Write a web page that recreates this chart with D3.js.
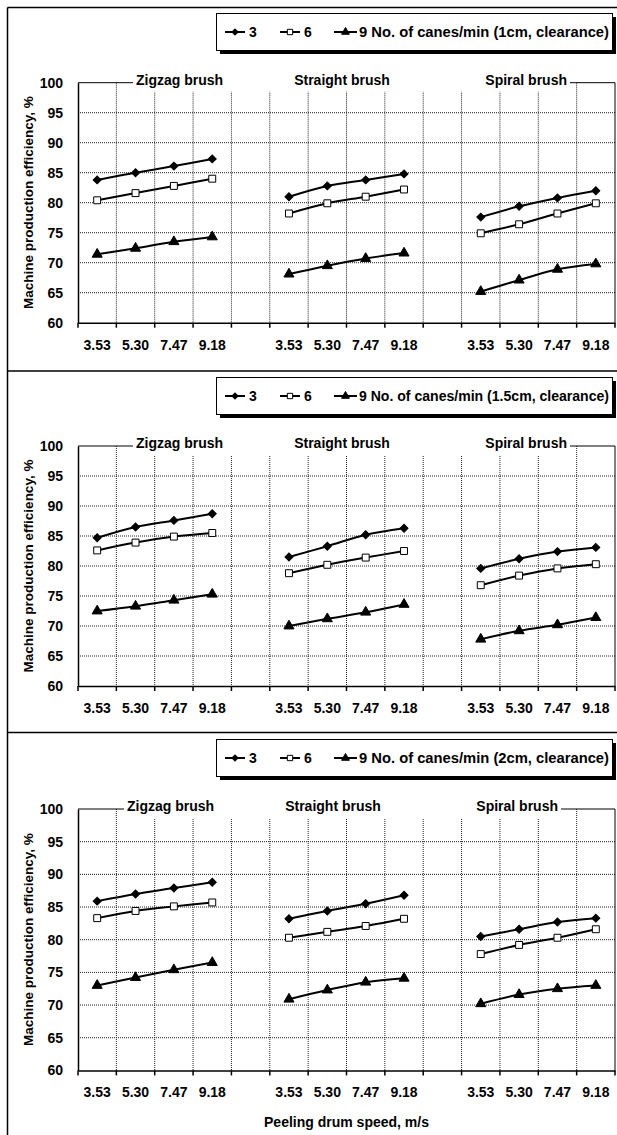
<!DOCTYPE html>
<html>
<head>
<meta charset="utf-8">
<script src="https://cdn.jsdelivr.net/npm/d3@7"></script>
<style>
  body { margin: 0; background: #fff; }
  text { font-family: "Liberation Sans", Arial, sans-serif; font-weight: bold; }
</style>
</head>
<body>
<div id="chart"></div>
<script>
// categories
const speeds = ["3.53", "5.30", "7.47", "9.18"];
const brushes = ["Zigzag brush", "Straight brush", "Spiral brush"];
const rates = ["3", "6", "9"];
const clearances = ["1cm", "1.5cm", "2cm"];
const yTicks = [60, 65, 70, 75, 80, 85, 90, 95, 100];

// efficiency, % : zigzag x4, straight x4, spiral x4
const eff1cmRate3 = [83.8, 85.0, 86.1, 87.3, 81.0, 82.8, 83.8, 84.8, 77.6, 79.4, 80.8, 82.0];
const eff1cmRate6 = [80.4, 81.6, 82.8, 84.0, 78.2, 79.9, 81.0, 82.2, 74.9, 76.4, 78.2, 79.9];
const eff1cmRate9 = [71.4, 72.4, 73.5, 74.3, 68.1, 69.5, 70.7, 71.6, 65.2, 67.1, 68.9, 69.8];

const eff15cmRate3 = [84.7, 86.5, 87.6, 88.7, 81.5, 83.3, 85.2, 86.3, 79.6, 81.2, 82.4, 83.1];
const eff15cmRate6 = [82.6, 83.9, 84.9, 85.5, 78.8, 80.2, 81.4, 82.5, 76.8, 78.4, 79.6, 80.3];
const eff15cmRate9 = [72.5, 73.3, 74.3, 75.3, 70.0, 71.2, 72.3, 73.6, 67.8, 69.2, 70.2, 71.4];

const eff2cmRate3 = [85.9, 87.0, 87.9, 88.8, 83.2, 84.4, 85.5, 86.8, 80.5, 81.6, 82.7, 83.3];
const eff2cmRate6 = [83.3, 84.4, 85.1, 85.7, 80.3, 81.2, 82.1, 83.2, 77.8, 79.2, 80.3, 81.6];
const eff2cmRate9 = [73.0, 74.2, 75.4, 76.5, 70.9, 72.3, 73.5, 74.1, 70.2, 71.6, 72.5, 73.0];

const panelData = [
  [eff1cmRate3, eff1cmRate6, eff1cmRate9],
  [eff15cmRate3, eff15cmRate6, eff15cmRate9],
  [eff2cmRate3, eff2cmRate6, eff2cmRate9]
];

// layout of each panel
const panels = [
  { top: 7.5, legendTop: 13, plotTop: 82.7, plotBottom: 322.7, titleShift: 0 },
  { top: 371, legendTop: 377, plotTop: 446, plotBottom: 686, titleShift: 0 },
  { top: 732.5, legendTop: 739, plotTop: 809, plotBottom: 1070.4, titleShift: -9 }
];

const width = 617, height = 1135;
const plotLeft = 78, plotRight = 615;

const svg = d3.select("#chart").append("svg")
  .attr("width", width)
  .attr("height", height);

// 14 slots: 4 speeds, gap, 4 speeds, gap, 4 speeds
const slots = [];
brushes.forEach((b, i) => {
  speeds.forEach(s => slots.push(i + "|" + s));
  if (i < brushes.length - 1) slots.push("gap" + i);
});

const x = d3.scaleBand()
  .domain(slots)
  .range([plotLeft, plotRight])
  .paddingInner(0)
  .paddingOuter(0);

// outer frame
svg.append("line").attr("x1", 7.5).attr("x2", 7.5).attr("y1", 7.5).attr("y2", height)
  .attr("stroke", "#000").attr("stroke-width", 1.5);
panels.forEach(p => {
  svg.append("line").attr("x1", 7.5).attr("x2", width).attr("y1", p.top).attr("y2", p.top)
    .attr("stroke", "#000").attr("stroke-width", 1.5);
});

const markers = [
  { type: d3.symbolSquare, size: 32, rotate: 45, fill: "#000" },
  { type: d3.symbolSquare, size: 48, rotate: 0, fill: "#fff" },
  { type: d3.symbolTriangle, size: 44, rotate: 0, fill: "#000" }
];

panels.forEach((p, pi) => {
  const g = svg.append("g");
  const y = d3.scaleLinear().domain([60, 100]).range([p.plotBottom, p.plotTop]);

  // legend with shadow
  const lg = g.append("g").attr("transform", `translate(216,${p.legendTop})`);
  lg.append("rect").attr("x", 4).attr("y", 4).attr("width", 396).attr("height", 37).attr("fill", "#000");
  lg.append("rect").attr("x", 0.5).attr("y", 0.5).attr("width", 396).attr("height", 37)
    .attr("fill", "#fff").attr("stroke", "#000");
  const itemX = [9, 64, 118];
  rates.forEach((r, i) => {
    const it = lg.append("g").attr("transform", `translate(${itemX[i]},19)`);
    it.append("line").attr("x1", 0).attr("x2", i === 2 ? 23 : 20).attr("stroke", "#000").attr("stroke-width", 2);
    it.append("path")
      .attr("d", d3.symbol().type(markers[i].type).size(markers[i].size * 0.6)())
      .attr("transform", `translate(${i === 2 ? 11.5 : 10},0) rotate(${markers[i].rotate})`)
      .attr("fill", markers[i].fill).attr("stroke", "#000").attr("stroke-width", 1);
    const t = it.append("text")
      .attr("x", i === 2 ? 25 : 24).attr("y", 0).attr("dy", "0.35em")
      .attr("font-size", 14)
      .text(i === 2 ? `${r} No. of canes/min (${clearances[pi]}, clearance)` : r);
    if (i === 2) {
      t.attr("textLength", 609 - 216 - itemX[i] - 25).attr("lengthAdjust", "spacingAndGlyphs");
    }
  });

  // gridlines
  g.append("g").selectAll("line.h")
    .data(yTicks.filter(v => v > 60 && v < 100))
    .join("line")
    .attr("x1", plotLeft).attr("x2", plotRight)
    .attr("y1", d => y(d)).attr("y2", d => y(d))
    .attr("stroke", "#222").attr("stroke-width", 1).attr("stroke-dasharray", "1,1");
  g.append("g").selectAll("line.v")
    .data(slots.slice(1))
    .join("line")
    .attr("x1", d => x(d)).attr("x2", d => x(d))
    .attr("y1", p.plotTop).attr("y2", p.plotBottom)
    .attr("stroke", "#222").attr("stroke-width", 1).attr("stroke-dasharray", "1,1");

  // plot frame: top and right
  g.append("path")
    .attr("d", `M${plotLeft},${y(100)}H${plotRight}V${y(60)}`)
    .attr("fill", "none").attr("stroke", "#000").attr("stroke-width", 1);

  // y axis
  const yAxis = g.append("g").attr("transform", `translate(${plotLeft},0)`)
    .call(d3.axisLeft(y).tickValues(yTicks).tickSize(0).tickPadding(15).tickFormat(d3.format("d")));
  yAxis.select(".domain").attr("stroke", "#000").attr("stroke-width", 1.5);
  yAxis.selectAll("text").attr("font-size", 14).attr("fill", "#000")
    .style("font-family", "'Liberation Sans', Arial, sans-serif").style("font-weight", "bold");

  // x axis
  const xAxis = g.append("g").attr("transform", `translate(0,${y(60)})`)
    .call(d3.axisBottom(x).tickSize(0).tickPadding(17)
      .tickFormat(d => d.startsWith("gap") ? "" : d.split("|")[1]));
  xAxis.select(".domain").attr("stroke", "#000").attr("stroke-width", 1.5);
  xAxis.selectAll("text").attr("font-size", 14).attr("fill", "#000")
    .style("font-family", "'Liberation Sans', Arial, sans-serif").style("font-weight", "bold");
  xAxis.selectAll("line.bound")
    .data(slots.map(d => x(d)).concat([plotRight]))
    .join("line").attr("class", "bound")
    .attr("x1", d => d).attr("x2", d => d).attr("y1", 0).attr("y2", 5)
    .attr("stroke", "#000").attr("stroke-width", 1.5);

  // group titles on a white strip that hides the top border
  const s = p.titleShift;
  g.append("rect").attr("x", 133 + s).attr("y", y(100) - 11).attr("width", 437).attr("height", 20)
    .attr("fill", "#fff");
  const tY = y(100) - 3;
  g.append("text").attr("x", 136 + s).attr("y", tY).attr("dy", "0.35em").attr("font-size", 14)
    .text(brushes[0]);
  g.append("text").attr("x", 342 + s).attr("y", tY).attr("dy", "0.35em").attr("font-size", 14)
    .attr("text-anchor", "middle").text(brushes[1]);
  g.append("text").attr("x", 567 + s).attr("y", tY).attr("dy", "0.35em").attr("font-size", 14)
    .attr("text-anchor", "end").text(brushes[2]);

  // y label
  g.append("text")
    .attr("transform", `translate(28,${(p.plotTop + p.plotBottom) / 2}) rotate(-90)`)
    .attr("text-anchor", "middle").attr("dy", "0.35em").attr("font-size", 13.5)
    .text("Machine production efficiency, %");

  // series
  const line = d3.line()
    .x(d => x(d.slot) + x.bandwidth() / 2)
    .y(d => y(d.v))
    .curve(d3.curveCatmullRom.alpha(0.5));

  panelData[pi].forEach((vals, si) => {
    brushes.forEach((b, bi) => {
      const pts = speeds.map((sp, k) => ({ slot: bi + "|" + sp, v: vals[bi * 4 + k] }));
      g.append("path").datum(pts)
        .attr("d", line)
        .attr("fill", "none").attr("stroke", "#000").attr("stroke-width", 2);
      g.append("g").selectAll("path")
        .data(pts)
        .join("path")
        .attr("d", d3.symbol().type(markers[si].type).size(markers[si].size)())
        .attr("transform", d => `translate(${x(d.slot) + x.bandwidth() / 2},${y(d.v)}) rotate(${markers[si].rotate})`)
        .attr("fill", markers[si].fill).attr("stroke", "#000").attr("stroke-width", 1);
    });
  });

  if (pi === 2) {
    g.append("text")
      .attr("x", (plotLeft + plotRight) / 2).attr("y", 1122).attr("dy", "0.35em")
      .attr("text-anchor", "middle").attr("font-size", 14)
      .text("Peeling drum speed, m/s");
  }
});
</script>
</body>
</html>
